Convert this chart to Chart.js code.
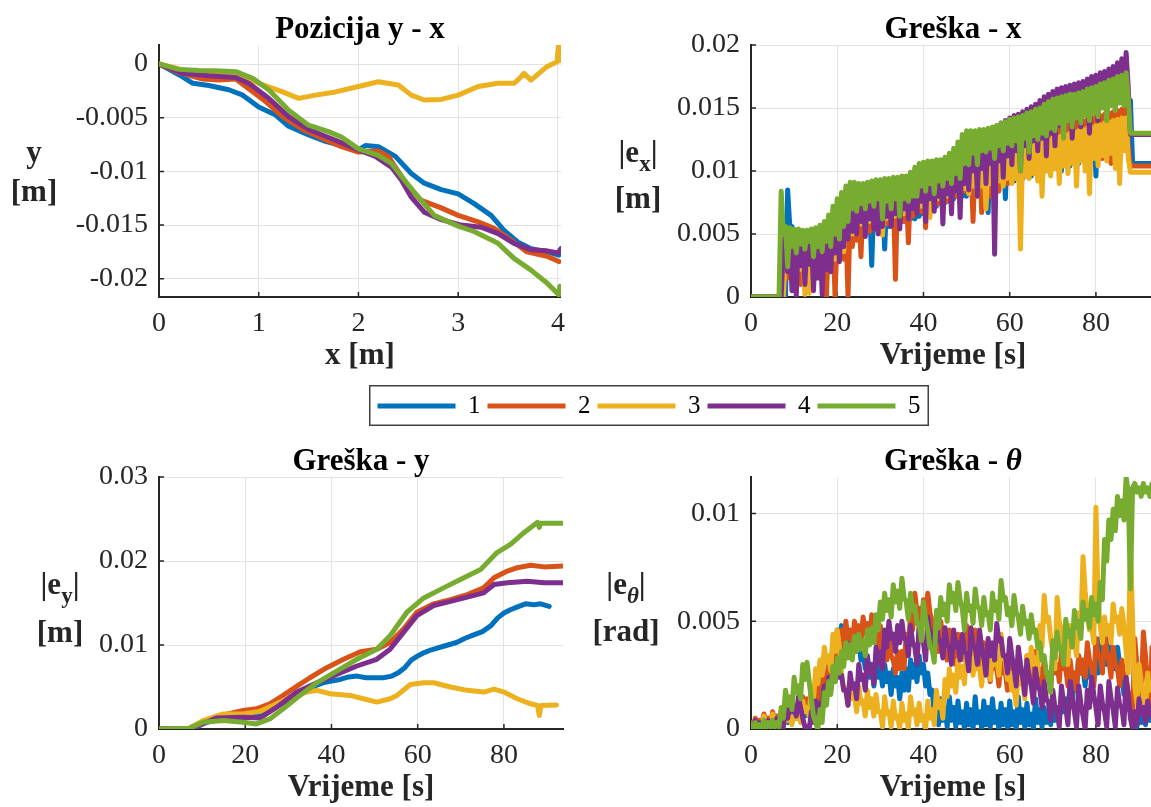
<!DOCTYPE html>
<html>
<head>
<meta charset="utf-8">
<script src="https://cdn.jsdelivr.net/npm/chart.js@4.4.1/dist/chart.umd.min.js"></script>
<style>
  html, body { margin: 0; padding: 0; background: #fff; }
  #fig { position: relative; width: 1151px; height: 807px; overflow: hidden; background: #fff; }
  #fig canvas { position: absolute; }
</style>
</head>
<body>
<div id="fig">
  <canvas id="posChart" width="575" height="400" style="left:0;top:0"></canvas>
  <canvas id="exChart" width="575" height="400" style="left:592px;top:0"></canvas>
  <canvas id="eyChart" width="575" height="400" style="left:0;top:432px"></canvas>
  <canvas id="ethChart" width="575" height="400" style="left:592px;top:432px"></canvas>
  <canvas id="legendChart" width="560" height="60" style="left:369px;top:385px"></canvas>
</div>
<script>
/* runs 1..5, MATLAB default colour order */
const runNames = ['1', '2', '3', '4', '5'];
const COLORS = ['#0072BD', '#D95319', '#EDB120', '#7E2F8E', '#77AC30'];

/* Pozicija y - x : x in m, y in mm */
const posX1 = [0, 0.1, 0.2, 0.34, 0.5, 0.7, 0.84, 1.0, 1.17, 1.3, 1.5, 1.67, 1.83, 2.0, 2.07, 2.2, 2.37, 2.53, 2.66, 2.83, 3.0, 3.16, 3.33, 3.46, 3.6, 3.73, 3.89, 4.01];
const posY1 = [0, -0.5, -1.0, -1.8, -2.0, -2.4, -2.9, -4.0, -4.75, -5.8, -6.6, -7.2, -7.6, -8.0, -7.6, -7.7, -8.6, -10.2, -11.1, -11.7, -12.1, -13.0, -14.1, -15.5, -16.6, -17.2, -17.5, -17.8];
const posX2 = [0, 0.2, 0.44, 0.6, 0.77, 0.9, 1.07, 1.24, 1.44, 1.63, 1.83, 2.0, 2.2, 2.3, 2.37, 2.5, 2.63, 2.83, 3.0, 3.2, 3.36, 3.53, 3.69, 3.89, 4.01];
const posY2 = [0, -0.8, -1.4, -1.5, -1.4, -2.3, -3.5, -4.9, -6.1, -6.9, -7.7, -8.2, -8.1, -8.6, -9.6, -11.4, -12.7, -13.4, -14.1, -14.7, -15.3, -16.4, -17.5, -17.9, -18.4];
const posX3 = [0, 0.24, 0.5, 0.77, 1.0, 1.24, 1.4, 1.57, 1.77, 2.0, 2.2, 2.4, 2.53, 2.66, 2.83, 3.0, 3.2, 3.4, 3.56, 3.62, 3.66, 3.73, 3.89, 3.99, 4.005, 4.01, 4.015];
const posY3 = [0, -0.56, -0.75, -0.87, -1.8, -2.6, -3.2, -2.9, -2.6, -2.1, -1.65, -1.95, -2.9, -3.35, -3.3, -2.9, -2.1, -1.8, -1.8, -1.3, -0.87, -1.5, -0.25, 0.2, 1.7, 0.6, 0.3];
const posX4 = [0, 0.24, 0.5, 0.77, 0.9, 1.1, 1.3, 1.5, 1.77, 2.0, 2.17, 2.33, 2.43, 2.53, 2.66, 2.83, 3.03, 3.23, 3.4, 3.56, 3.73, 3.89, 4.0, 4.03];
const posY4 = [0, -0.87, -1.1, -1.25, -1.8, -3.2, -4.9, -6.1, -7.1, -8.0, -8.6, -9.6, -10.8, -12.4, -13.8, -14.5, -15.0, -15.2, -15.8, -16.7, -17.3, -17.4, -17.6, -17.2];
const posX5 = [0, 0.2, 0.4, 0.57, 0.77, 0.94, 1.1, 1.3, 1.5, 1.7, 1.83, 2.0, 2.2, 2.33, 2.46, 2.6, 2.76, 3.0, 3.16, 3.4, 3.56, 3.73, 3.89, 4.01, 4.02];
const posY5 = [0, -0.5, -0.6, -0.62, -0.71, -1.34, -2.4, -4.3, -5.7, -6.3, -6.8, -7.9, -8.5, -9.25, -10.8, -12.4, -14.1, -15.1, -15.6, -16.7, -18.1, -19.2, -20.4, -21.5, -20.7];

/* sample times [s] for |e_x| and |e_theta| (every 0.5 s) */
const secs = [0, 0.5, 1, 1.5, 2, 2.5, 3, 3.5, 4, 4.5, 5, 5.5, 6, 6.5, 7, 7.5, 8, 8.5, 9, 9.5,
  10, 10.5, 11, 11.5, 12, 12.5, 13, 13.5, 14, 14.5, 15, 15.5, 16, 16.5, 17, 17.5, 18, 18.5, 19, 19.5,
  20, 20.5, 21, 21.5, 22, 22.5, 23, 23.5, 24, 24.5, 25, 25.5, 26, 26.5, 27, 27.5, 28, 28.5, 29, 29.5,
  30, 30.5, 31, 31.5, 32, 32.5, 33, 33.5, 34, 34.5, 35, 35.5, 36, 36.5, 37, 37.5, 38, 38.5, 39, 39.5,
  40, 40.5, 41, 41.5, 42, 42.5, 43, 43.5, 44, 44.5, 45, 45.5, 46, 46.5, 47, 47.5, 48, 48.5, 49, 49.5,
  50, 50.5, 51, 51.5, 52, 52.5, 53, 53.5, 54, 54.5, 55, 55.5, 56, 56.5, 57, 57.5, 58, 58.5, 59, 59.5,
  60, 60.5, 61, 61.5, 62, 62.5, 63, 63.5, 64, 64.5, 65, 65.5, 66, 66.5, 67, 67.5, 68, 68.5, 69, 69.5,
  70, 70.5, 71, 71.5, 72, 72.5, 73, 73.5, 74, 74.5, 75, 75.5, 76, 76.5, 77, 77.5, 78, 78.5, 79, 79.5,
  80, 80.5, 81, 81.5, 82, 82.5, 83, 83.5, 84, 84.5, 85, 85.5, 86, 86.5, 87, 87.5, 88, 88.5, 89, 89.5,
  90, 90.5, 91, 91.5, 92, 92.5, 93, 93.5];

/* |e_x| in mm, one line = 10 s */
const ex1 = [0, 0, 0, 0, 0, 0, 0, 0, 0, 0, 0, 0, 0, 0, 0, 0, 0.0, 8.5, 5.6, 5.6,
  1.0, 5.0, 2.0, 4.6, 2.0, 4.4, 2.4, 4.4, 2.5, 4.5, 2.2, 4.6, 2.6, 4.7, 2.0, 4.8, 2.8, 4.9, 3.0, 5.0,
  3.2, 5.2, 3.4, 5.4, 4.2, 5.8, 4.4, 6.4, 4.8, 6.8, 5.0, 7.2, 5.0, 7.4, 5.2, 7.6, 2.5, 7.7, 5.4, 7.8,
  5.2, 7.9, 3.8, 8.0, 5.6, 8.1, 5.8, 8.2, 5.8, 8.3, 6.0, 8.4, 6.0, 8.4, 6.2, 8.6, 6.2, 8.8, 6.4, 9.0,
  6.6, 9.2, 6.8, 9.3, 7.0, 9.4, 7.2, 9.5, 7.4, 9.6, 7.5, 9.7, 7.6, 9.8, 7.8, 10.0, 8.0, 10.2, 8.0, 10.4,
  8.0, 10.6, 8.2, 10.7, 8.2, 10.8, 8.4, 11.0, 8.6, 11.2, 6.7, 11.4, 8.6, 11.6, 8.8, 11.8, 9.0, 12.0, 7.8, 12.1,
  9.2, 12.2, 9.2, 12.3, 9.4, 12.4, 9.4, 12.5, 9.6, 12.6, 9.6, 12.7, 9.8, 12.8, 9.8, 12.9, 10.0, 13.0, 10.0, 13.1,
  10.2, 13.2, 10.2, 13.3, 10.0, 13.4, 10.4, 13.5, 10.4, 13.6, 10.6, 13.7, 10.6, 13.8, 10.8, 13.8, 10.8, 13.9, 11.0, 14.0,
  9.6, 14.1, 11.0, 14.2, 11.2, 14.3, 11.2, 14.4, 11.4, 14.5, 11.6, 14.6, 11.6, 14.7, 11.8, 14.8, 15.6, 10.6, 10.6, 10.6,
  10.6, 10.6, 10.6, 10.6, 10.6, 10.6, 10.6, 10.6];
const ex2 = [0, 0, 0, 0, 0, 0, 0, 0, 0, 0, 0, 0, 0, 0, 0, 0, 4.2, 1.5, 4.2, 2.0,
  4.3, 2.4, 4.3, 1.0, 4.4, 2.2, 4.4, 2.6, 4.5, 1.4, 4.6, 2.8, 4.7, 3.0, 4.8, 0.0, 5.0, 3.2, 5.1, 0.0,
  5.2, 3.6, 5.6, 3.0, 6.0, 0.0, 6.6, 4.0, 7.0, 4.5, 7.4, 3.2, 7.6, 5.0, 7.8, 5.2, 7.9, 5.4, 8.0, 5.6,
  8.1, 5.6, 8.2, 5.8, 8.3, 6.0, 8.4, 1.4, 8.5, 6.2, 8.6, 6.0, 8.6, 4.3, 8.8, 6.4, 9.0, 6.6, 9.2, 6.8,
  9.4, 5.5, 9.5, 7.0, 9.6, 7.2, 9.7, 7.4, 9.8, 7.2, 9.9, 7.6, 10.0, 7.8, 10.2, 8.0, 10.4, 8.2, 10.6, 8.4,
  10.8, 8.4, 10.9, 6.0, 11.0, 8.6, 11.2, 6.7, 11.4, 8.8, 11.6, 8.0, 11.8, 9.0, 12.0, 8.4, 12.2, 9.2, 12.3, 9.0,
  12.4, 9.4, 12.5, 9.4, 12.6, 9.6, 12.7, 9.6, 12.8, 9.8, 12.9, 9.8, 13.0, 10.0, 13.1, 10.0, 13.2, 10.2, 13.3, 10.2,
  13.4, 10.4, 13.5, 10.6, 13.6, 10.6, 13.7, 10.4, 13.8, 10.8, 13.9, 11.0, 14.0, 11.0, 14.0, 10.8, 14.1, 11.2, 14.2, 11.2,
  14.3, 11.4, 14.4, 11.0, 14.5, 11.6, 14.6, 10.6, 14.7, 11.8, 14.8, 11.5, 14.9, 12.0, 15.0, 12.0, 10.4, 10.4, 10.4, 10.4,
  10.4, 10.4, 10.4, 10.4, 10.4, 10.4, 10.4, 10.4];
const ex3 = [0, 0, 0, 0, 0, 0, 0, 0, 0, 0, 0, 0, 0, 0, 0, 0, 4.0, 2.0, 4.4, 2.5,
  4.4, 1.8, 4.5, 2.2, 4.5, 0.2, 4.5, 0.3, 4.6, 2.4, 4.7, 2.4, 4.8, 2.6, 4.9, 2.6, 5.0, 3.0, 5.3, 3.0,
  5.6, 3.6, 6.0, 3.6, 6.6, 5.0, 7.0, 5.0, 7.2, 5.8, 7.4, 5.8, 7.6, 5.6, 7.7, 6.0, 7.8, 6.0, 7.9, 6.2,
  8.0, 4.9, 8.1, 6.2, 8.2, 6.4, 8.2, 6.4, 8.3, 6.6, 8.4, 6.6, 8.4, 6.5, 8.6, 7.0, 8.8, 7.0, 9.0, 7.2,
  9.0, 7.5, 9.1, 6.3, 9.2, 7.6, 9.3, 7.8, 9.4, 8.0, 9.5, 8.0, 9.5, 8.2, 9.6, 8.4, 9.8, 8.6, 10.0, 8.6,
  10.2, 8.2, 10.3, 8.8, 10.4, 8.0, 10.5, 8.8, 10.6, 7.0, 10.8, 9.0, 10.9, 6.5, 11.0, 9.2, 11.2, 8.8, 11.3, 9.4,
  11.4, 9.0, 11.5, 9.4, 11.6, 3.8, 11.8, 9.6, 11.9, 9.4, 12.0, 9.8, 12.2, 9.2, 12.3, 8.0, 12.4, 10.0, 12.5, 9.6,
  12.6, 10.2, 12.7, 9.0, 12.8, 10.4, 12.9, 9.8, 13.0, 10.6, 13.1, 8.8, 13.2, 10.8, 13.3, 10.0, 13.4, 8.2, 13.5, 11.0,
  13.6, 10.4, 13.7, 11.2, 13.8, 10.8, 13.9, 11.4, 14.0, 10.2, 14.1, 9.0, 14.2, 11.6, 14.2, 11.0, 9.9, 9.9, 9.9, 9.9,
  9.9, 9.9, 9.9, 9.9, 9.9, 9.9, 9.9, 9.9];
const ex4 = [0, 0, 0, 0, 0, 0, 0, 0, 0, 0, 0, 0, 0, 0, 0.0, 4.0, 5.0, 2.0, 5.0, 0.5,
  4.8, 0.1, 4.8, 2.5, 4.8, 1.0, 4.8, 2.6, 5.0, 0.5, 5.0, 1.5, 5.2, 0.2, 5.4, 2.2, 5.8, 2.0, 6.4, 3.5,
  7.0, 2.8, 7.6, 4.0, 8.0, 4.6, 8.4, 5.2, 8.5, 5.0, 8.5, 6.0, 8.5, 4.8, 8.6, 6.2, 8.7, 5.4, 8.8, 5.0,
  8.8, 5.6, 8.9, 6.4, 8.9, 5.6, 9.0, 6.6, 9.0, 5.4, 9.1, 7.0, 9.1, 6.2, 9.4, 7.0, 9.8, 6.6, 10.0, 7.6,
  10.1, 6.0, 10.2, 7.8, 10.2, 6.8, 10.3, 8.0, 10.4, 5.8, 10.5, 8.2, 10.8, 6.6, 11.2, 8.4, 11.8, 6.3, 12.4, 9.0,
  12.8, 8.5, 12.8, 10.0, 12.9, 8.0, 13.0, 10.2, 13.1, 9.0, 13.2, 10.6, 13.4, 3.4, 13.6, 10.8, 13.8, 9.5, 14.0, 11.2,
  14.2, 10.5, 14.4, 11.6, 14.5, 10.0, 14.7, 12.0, 14.9, 11.0, 15.1, 12.4, 15.3, 11.6, 15.6, 12.6, 15.9, 11.2, 16.1, 13.0,
  16.3, 12.0, 16.5, 13.6, 16.6, 13.2, 16.7, 14.0, 16.8, 12.6, 16.9, 14.2, 17.0, 13.5, 17.1, 14.6, 17.3, 13.0, 17.5, 14.8,
  17.6, 14.0, 17.8, 15.2, 17.9, 14.5, 18.1, 15.6, 18.3, 15.0, 18.6, 16.0, 18.9, 15.8, 19.4, 16.6, 12.9, 12.9, 12.9, 12.9,
  12.9, 12.9, 12.9, 12.9, 12.9, 12.9, 12.9, 12.9];
const ex5 = [0, 0, 0, 0, 0, 0, 0, 0, 0, 0, 0, 0, 0, 0, 8.4, 5.0, 5.6, 2.4, 5.5, 4.0,
  5.4, 3.5, 5.4, 4.2, 5.3, 3.8, 5.3, 4.4, 5.4, 3.2, 5.5, 4.0, 5.7, 3.6, 6.0, 4.4, 6.5, 4.0, 7.2, 5.0,
  7.8, 4.6, 8.3, 5.6, 8.8, 6.0, 9.1, 7.0, 9.1, 6.8, 9.0, 7.4, 9.0, 7.0, 9.1, 7.6, 9.2, 7.2, 9.3, 7.8,
  9.3, 6.2, 9.4, 7.6, 9.4, 7.0, 9.5, 7.8, 9.5, 6.4, 9.6, 7.8, 9.6, 7.6, 9.9, 8.0, 10.3, 8.0, 10.6, 8.8,
  10.7, 8.4, 10.8, 9.0, 10.8, 8.2, 10.9, 9.2, 10.9, 8.8, 11.1, 9.4, 11.4, 9.0, 11.8, 9.8, 12.3, 9.4, 12.9, 10.6,
  13.2, 10.5, 13.2, 11.4, 13.2, 10.5, 13.3, 11.6, 13.3, 11.5, 13.4, 11.8, 13.5, 11.0, 13.6, 12.0, 13.8, 11.6, 13.9, 12.2,
  14.1, 12.0, 14.2, 12.4, 14.3, 10.0, 14.4, 12.6, 14.6, 11.5, 14.7, 12.8, 14.9, 12.5, 15.0, 13.0, 15.3, 12.8, 15.5, 13.4,
  15.7, 13.2, 15.8, 13.8, 15.9, 12.6, 16.0, 14.0, 16.1, 13.5, 16.1, 14.2, 16.2, 13.8, 16.3, 14.4, 16.5, 14.0, 16.6, 14.6,
  16.7, 14.3, 16.9, 15.0, 17.0, 14.0, 17.2, 15.2, 17.3, 14.8, 17.5, 15.4, 17.6, 15.2, 17.8, 15.8, 13.0, 13.0, 13.0, 13.0,
  13.0, 13.0, 13.0, 13.0, 13.0, 13.0, 13.0, 13.0];

/* |e_y| in mm, each run with its own sample times */
const eyT1 = [0, 8, 10, 13, 17, 20, 23.4, 26, 28, 30, 32, 34, 36, 38, 40, 42, 44, 46, 48, 50, 52, 54, 55.5, 57, 58.5, 60, 61.5, 63, 65, 67, 69, 71, 73, 75, 77, 78.5, 80, 81.5, 83, 85, 87, 88.5, 90.5];
const ey1 = [0, 0, 0.6, 1.1, 1.4, 1.6, 1.6, 2.2, 2.9, 3.4, 4.0, 4.6, 5.1, 5.5, 5.7, 5.9, 6.2, 6.3, 6.1, 6.1, 6.1, 6.3, 6.7, 7.3, 8.2, 8.7, 9.1, 9.4, 9.7, 10.0, 10.3, 10.8, 11.2, 11.6, 12.3, 13.2, 13.8, 14.2, 14.5, 14.9, 14.8, 14.9, 14.6];
const eyT2 = [0, 8, 10, 13, 16, 19.5, 22.6, 25.7, 28.8, 32, 35, 38.9, 42.8, 46.7, 50.5, 53.6, 56.7, 59.8, 63.7, 67.6, 71.5, 75.3, 77.7, 80.8, 83.1, 86.2, 89.3, 93.7];
const ey2 = [0, 0, 0.8, 1.4, 1.8, 2.2, 2.4, 3.0, 4.0, 5.1, 6.1, 7.3, 8.3, 9.2, 9.5, 10.3, 11.9, 13.9, 14.9, 15.4, 16.0, 16.8, 18.0, 18.8, 19.2, 19.5, 19.3, 19.4];
const eyT3 = [0, 7, 10.2, 14.9, 19.5, 23.4, 27.3, 31.2, 34.3, 36.6, 39.7, 44.3, 47.4, 50.5, 53.6, 55.2, 58.3, 61.4, 63.7, 67.6, 71.5, 75.3, 77.7, 80, 83.1, 86.2, 87.8, 88.2, 88.6, 92.2];
const ey3 = [0, 0.1, 1.0, 1.8, 1.8, 2.1, 3.0, 4.0, 4.4, 4.6, 4.2, 4.0, 3.6, 3.2, 3.6, 4.0, 5.3, 5.5, 5.5, 5.0, 4.6, 4.4, 4.75, 4.4, 3.6, 3.0, 2.8, 1.6, 2.8, 2.85];
const eyT4 = [0, 7.9, 13.3, 19.5, 23.4, 27.3, 32, 36.6, 41.2, 45.9, 50.5, 53.6, 56.7, 59.8, 63.7, 67.6, 71.5, 75.3, 77.7, 80.8, 85.4, 89.3, 93.6];
const ey4 = [0, 0.1, 1.3, 1.4, 1.3, 2.6, 4.4, 5.5, 6.5, 7.5, 8.3, 9.5, 11.5, 13.5, 14.7, 15.2, 15.7, 16.2, 17.2, 17.4, 17.6, 17.4, 17.4];
const eyT5 = [0, 7.1, 10.2, 14.9, 19.5, 22.6, 25.7, 28.8, 32.7, 36.6, 41.2, 45.9, 50.5, 53.6, 57.5, 61.4, 66, 69.9, 74.6, 78.4, 81.6, 84.7, 87.8, 88.2, 88.5, 93.7];
const ey5 = [0, 0.1, 0.8, 1.0, 0.8, 0.6, 1.2, 2.4, 4.0, 5.5, 6.9, 8.3, 9.5, 11.1, 13.9, 15.6, 16.8, 17.8, 19.0, 21.0, 22.0, 23.4, 24.6, 24.0, 24.5, 24.5];

/* |e_theta| in mrad, one line = 10 s */
const eth1 = [0.2, 0.0, 0.2, 0.1, 0.3, 0.1, 0.3, 0.1, 0.4, 0.2, 0.3, 0.1, 0.4, 0.2, 0.5, 0.2, 0.6, 0.3, 0.7, 0.4,
  0.9, 0.5, 0.8, 0.4, 1.1, 0.6, 1.0, 0.6, 1.6, 1.0, 1.5, 1.0, 2.2, 1.6, 2.3, 1.8, 2.9, 2.2, 3.6, 2.8,
  4.6, 3.8, 4.8, 4.0, 4.4, 3.6, 4.2, 3.4, 4.5, 3.6, 4.0, 3.2, 3.6, 2.8, 3.2, 2.4, 3.0, 2.0, 3.2, 2.4,
  2.8, 2.0, 3.0, 2.2, 2.6, 1.6, 2.8, 2.0, 2.4, 1.4, 2.6, 1.8, 2.8, 1.8, 3.2, 2.4, 3.0, 2.2, 3.4, 2.6,
  3.0, 2.0, 2.6, 1.6, 1.8, 0.8, 1.2, 0.2, 1.4, 0.4, 1.0, 0.1, 1.5, 0.4, 1.0, 0.1, 1.3, 0.3, 0.8, 0.0,
  1.2, 0.2, 0.9, 0.0, 1.5, 0.3, 0.8, 0.0, 1.3, 0.2, 1.0, 0.1, 1.4, 0.3, 0.8, 0.0, 1.2, 0.2, 0.9, 0.1,
  1.3, 0.2, 0.8, 0.0, 1.5, 0.3, 0.9, 0.1, 1.2, 0.2, 0.7, 0.0, 1.4, 0.3, 0.9, 0.1, 1.0, 0.3, 0.8, 0.2,
  1.2, 0.4, 1.0, 0.4, 1.6, 0.8, 1.4, 0.8, 2.0, 1.2, 2.6, 1.8, 3.4, 2.6, 2.8, 2.0, 3.2, 2.4, 3.0, 2.2,
  3.4, 2.6, 4.2, 3.4, 3.8, 3.0, 4.2, 3.4, 3.6, 2.8, 3.8, 3.0, 2.6, 1.6, 1.8, 1.0, 0.8, 0.2, 0.6, 0.1,
  0.8, 0.3, 0.7, 0.2, 1.0, 0.4, 0.8, 0.3];
const eth2 = [0.3, 0.1, 0.5, 0.2, 0.4, 0.2, 0.7, 0.3, 0.5, 0.2, 0.8, 0.4, 0.6, 0.3, 0.5, 0.2, 0.9, 0.5, 0.8, 0.4,
  1.1, 0.7, 1.0, 0.6, 1.5, 1.0, 1.4, 0.9, 2.0, 1.4, 1.9, 1.3, 2.6, 2.0, 2.5, 1.9, 3.2, 2.6, 3.8, 3.2,
  4.2, 3.4, 4.6, 3.8, 5.0, 4.2, 4.6, 3.8, 5.0, 4.2, 4.8, 4.0, 5.2, 4.4, 4.9, 4.1, 5.3, 4.4, 4.8, 3.8,
  4.8, 3.8, 4.0, 3.2, 4.4, 3.4, 3.2, 2.6, 3.6, 2.8, 3.6, 2.8, 4.4, 3.6, 5.4, 4.6, 6.3, 5.4, 5.6, 4.8,
  6.0, 5.2, 6.3, 5.4, 5.0, 4.2, 4.4, 3.6, 5.0, 4.2, 4.0, 3.2, 4.6, 3.8, 3.8, 3.0, 4.4, 3.6, 4.0, 3.2,
  4.8, 4.0, 4.2, 3.4, 4.6, 3.8, 3.6, 2.8, 4.0, 3.2, 3.0, 2.2, 3.6, 2.8, 2.8, 2.0, 3.4, 2.6, 2.6, 1.8,
  3.6, 2.8, 3.0, 2.2, 3.2, 2.4, 2.6, 1.8, 3.4, 2.6, 3.0, 2.2, 3.6, 2.8, 2.8, 2.0, 3.2, 2.4, 2.6, 1.8,
  3.4, 2.6, 3.0, 2.2, 3.6, 2.8, 2.8, 2.0, 3.2, 2.4, 2.6, 1.8, 3.4, 2.6, 3.2, 2.4, 4.0, 3.2, 2.8, 2.0,
  4.2, 3.4, 3.4, 2.6, 4.4, 3.6, 3.2, 2.4, 3.8, 3.0, 2.8, 2.0, 3.2, 2.4, 2.4, 1.6, 1.4, 0.6, 4.2, 3.0,
  2.6, 1.6, 4.5, 3.4, 1.8, 0.9, 3.8, 2.8];
const eth3 = [0.2, 0.0, 0.4, 0.1, 0.3, 0.1, 0.6, 0.3, 0.4, 0.1, 0.7, 0.4, 0.5, 0.2, 0.4, 0.1, 0.7, 0.4, 0.5, 0.2,
  0.9, 0.5, 0.6, 0.3, 1.3, 0.8, 1.0, 0.6, 2.0, 1.4, 2.8, 2.1, 3.2, 2.5, 3.8, 3.1, 3.4, 2.7, 4.4, 3.6,
  4.6, 3.8, 2.6, 1.8, 1.9, 1.1, 2.2, 1.4, 1.6, 0.8, 2.0, 1.2, 1.3, 0.6, 1.8, 1.0, 1.4, 0.6, 1.6, 0.8,
  0.8, 0.1, 1.5, 0.7, 0.8, 0.1, 1.3, 0.5, 0.6, 0.0, 1.2, 0.4, 0.7, 0.0, 1.5, 0.7, 0.9, 0.2, 1.2, 0.4,
  0.6, 0.0, 1.3, 0.5, 0.9, 0.2, 1.8, 1.0, 1.3, 0.5, 2.3, 1.5, 2.8, 2.0, 2.5, 1.7, 3.2, 2.4, 2.9, 2.1,
  3.6, 2.8, 3.3, 2.5, 3.6, 2.8, 2.8, 2.0, 3.4, 2.6, 3.1, 2.3, 3.8, 3.0, 3.3, 2.5, 4.4, 3.4, 3.1, 2.3,
  2.6, 1.8, 1.9, 1.1, 2.9, 2.1, 2.2, 1.4, 3.4, 2.6, 3.8, 3.0, 3.3, 2.5, 4.8, 3.8, 6.2, 5.0, 5.2, 4.2,
  3.6, 2.8, 6.1, 5.0, 4.6, 3.8, 3.8, 3.0, 4.8, 4.0, 4.2, 3.4, 5.4, 4.6, 8.0, 6.4, 5.4, 4.6, 4.8, 4.0,
  10.3, 6.0, 4.8, 4.0, 5.2, 4.4, 4.8, 4.0, 5.8, 5.0, 5.2, 4.4, 5.6, 4.8, 3.6, 2.6, 8.8, 5.0, 2.0, 1.2,
  3.0, 2.2, 1.6, 0.9, 2.6, 1.8, 2.2, 1.4];
const eth4 = [0.2, 0.0, 0.4, 0.1, 0.3, 0.1, 0.2, 0.0, 0.4, 0.1, 0.3, 0.1, 0.5, 0.2, 0.3, 0.1, 1.0, 0.5, 1.3, 0.8,
  1.0, 0.6, 1.5, 1.0, 0.5, 0.1, 0.1, 0.0, 0.8, 0.3, 1.3, 0.8, 1.2, 0.7, 2.0, 1.4, 2.4, 1.8, 2.8, 2.2,
  3.0, 2.4, 2.5, 1.8, 1.8, 1.1, 2.6, 1.9, 2.1, 1.4, 3.0, 2.3, 2.5, 1.8, 3.4, 2.6, 2.9, 2.1, 3.8, 3.0,
  3.6, 2.8, 4.6, 3.8, 5.0, 4.2, 4.4, 3.6, 4.8, 4.0, 5.0, 4.2, 4.2, 3.4, 4.8, 4.0, 3.8, 3.0, 4.9, 4.1,
  4.0, 3.2, 5.2, 4.4, 4.5, 3.7, 4.9, 4.1, 4.1, 3.3, 4.7, 3.9, 3.8, 3.0, 4.6, 3.8, 4.0, 3.2, 4.4, 3.6,
  3.5, 2.7, 4.7, 3.9, 3.8, 3.0, 4.6, 3.8, 3.3, 2.5, 4.2, 3.4, 4.0, 3.2, 4.9, 4.1, 4.2, 3.4, 3.4, 2.6,
  4.2, 3.4, 2.8, 2.0, 3.8, 3.0, 2.4, 1.6, 3.2, 2.4, 2.0, 1.2, 2.8, 2.0, 1.8, 1.0, 2.2, 1.4, 1.2, 0.4,
  1.8, 1.0, 0.8, 0.1, 2.0, 1.2, 1.0, 0.2, 2.2, 1.4, 0.8, 0.1, 2.0, 1.2, 0.6, 0.0, 1.8, 1.0, 2.4, 1.6,
  1.0, 0.2, 2.0, 1.2, 0.8, 0.1, 2.2, 1.4, 0.9, 0.1, 1.9, 1.1, 1.0, 0.2, 2.4, 1.6, 0.5, 0.0, 0.8, 0.2,
  1.4, 0.7, 1.0, 0.3, 1.3, 0.6, 0.9, 0.3];
const eth5 = [0.2, 0.0, 0.3, 0.1, 0.2, 0.0, 0.4, 0.1, 0.3, 0.1, 0.4, 0.1, 0.3, 0.1, 1.0, 0.5, 1.8, 1.1, 1.5, 0.9,
  2.4, 1.7, 2.0, 1.4, 3.0, 2.3, 3.1, 2.2, 1.4, 0.6, 0.3, 0.0, 0.9, 0.3, 1.7, 1.1, 2.2, 1.6, 2.9, 2.2,
  3.3, 2.6, 3.6, 2.9, 4.0, 3.3, 3.9, 3.2, 4.3, 3.6, 4.4, 3.7, 4.1, 3.4, 4.6, 3.9, 4.7, 4.0, 5.3, 4.6,
  5.9, 5.1, 6.3, 5.5, 6.0, 5.2, 6.7, 5.9, 6.4, 5.6, 7.0, 6.1, 5.9, 5.1, 6.3, 5.5, 5.7, 4.9, 4.9, 4.1,
  5.9, 5.1, 4.6, 3.8, 3.7, 3.1, 5.5, 4.7, 6.1, 5.3, 5.8, 5.0, 6.7, 5.9, 6.3, 5.5, 6.8, 6.0, 5.6, 4.6,
  6.3, 5.5, 5.7, 4.9, 6.5, 5.7, 5.6, 4.8, 6.1, 5.3, 5.4, 4.6, 6.3, 5.5, 5.9, 5.1, 6.9, 6.0, 6.1, 5.3,
  5.6, 4.8, 6.2, 5.4, 5.2, 4.4, 5.7, 4.9, 5.0, 4.2, 5.3, 4.5, 4.6, 3.8, 4.0, 3.2, 3.4, 2.6, 2.4, 1.7,
  4.1, 3.3, 4.5, 3.7, 3.8, 3.0, 5.1, 4.3, 4.6, 3.8, 5.5, 4.7, 5.0, 4.2, 5.9, 5.1, 5.5, 4.7, 6.1, 5.3,
  5.8, 5.0, 6.8, 6.0, 8.8, 7.8, 9.7, 8.8, 10.2, 9.2, 10.8, 9.9, 10.6, 9.7, 11.7, 11.0, 6.5, 11.2, 11.4, 11.0,
  11.2, 10.8, 11.4, 11.0, 11.2, 10.8, 11.4, 11.1];

/* axes */
const posXTicks = [0, 1, 2, 3, 4];
const posXTickLabels = ['0', '1', '2', '3', '4'];
const posYTicks = [-0.02, -0.015, -0.01, -0.005, 0];
const posYTickLabels = ['-0.02', '-0.015', '-0.01', '-0.005', '0'];
const timeTicks = [0, 20, 40, 60, 80];
const timeTickLabels = ['0', '20', '40', '60', '80'];
const exTicks = [0, 0.005, 0.01, 0.015, 0.02];
const exTickLabels = ['0', '0.005', '0.01', '0.015', '0.02'];
const eyTicks = [0, 0.01, 0.02, 0.03];
const eyTickLabels = ['0', '0.01', '0.02', '0.03'];
const ethTicks = [0, 0.005, 0.01];
const ethTickLabels = ['0', '0.005', '0.01'];

const SERIF = "'Liberation Serif', 'Times New Roman', serif";
const AXIS = '#262626';
const GRID = '#e3e3e3';
const TITLE = `bold 31px ${SERIF}`;
const TITLE_IT = `italic bold 31px ${SERIF}`;
const SUB = `bold 23px ${SERIF}`;
const SUB_IT = `italic bold 23px ${SERIF}`;

// mm -> m (and mrad -> rad)
const fromMilli = v => v / 1000;

function lineSet(i, xs, ys) {
  return {
    label: runNames[i],
    data: xs.map((x, k) => ({ x, y: fromMilli(ys[k]) })),
    borderColor: COLORS[i],
    backgroundColor: COLORS[i],
    borderWidth: 5,
    pointRadius: 0,
    tension: 0,
    borderJoinStyle: 'round',
    borderCapStyle: 'round',
    order: 5 - i // run 5 on top
  };
}

/* inward tick marks, like the MATLAB axes */
const tickMarks = {
  id: 'tickMarks',
  beforeDatasetsDraw(chart) {
    const { ctx, chartArea: a, scales: { x, y } } = chart;
    ctx.save();
    ctx.strokeStyle = AXIS;
    ctx.lineWidth = 1.5;
    ctx.beginPath();
    x.ticks.forEach(t => {
      const px = x.getPixelForValue(t.value);
      ctx.moveTo(px, a.bottom);
      ctx.lineTo(px, a.bottom - 5);
    });
    y.ticks.forEach(t => {
      const py = y.getPixelForValue(t.value);
      ctx.moveTo(a.left, py);
      ctx.lineTo(a.left + 5, py);
    });
    ctx.stroke();
    ctx.restore();
  }
};

/* titles and horizontal y labels with sub scripts */
function richText(items) {
  return {
    id: 'richText',
    afterDraw(chart) {
      const ctx = chart.ctx;
      ctx.save();
      ctx.textBaseline = 'alphabetic';
      ctx.textAlign = 'left';
      items.forEach(item => {
        const cx = item.x === 'center' ? (chart.chartArea.left + chart.chartArea.right) / 2 : item.x;
        const widths = item.parts.map(p => { ctx.font = p.font; return ctx.measureText(p.text).width; });
        let x = cx - widths.reduce((a, b) => a + b, 0) / 2;
        item.parts.forEach((p, k) => {
          ctx.font = p.font;
          ctx.fillStyle = item.color || AXIS;
          ctx.fillText(p.text, x, item.y + (p.dy || 0));
          x += widths[k];
        });
      });
      ctx.restore();
    }
  };
}

function axis(min, max, ticks, labels, fit) {
  return {
    type: 'linear', bounds: 'data', min, max,
    afterBuildTicks: s => { s.ticks = ticks.map(v => ({ value: v })); },
    afterFit: fit,
    ticks: { callback: (v, i) => labels[i], font: { family: SERIF, size: 28 }, color: AXIS, maxRotation: 0, autoSkip: false },
    grid: { color: GRID, lineWidth: 1, drawTicks: false },
    border: { color: AXIS, width: 2 }
  };
}

function makeOptions(c) {
  const x = axis(c.xMin, c.xMax, c.xTicks, c.xLabels, s => { s.height = 103; });
  x.ticks.padding = 10;
  x.title = { display: true, text: c.xTitle, color: AXIS, font: { family: SERIF, size: 31, weight: 'bold', lineHeight: 1 }, padding: { top: 0, bottom: 29 } };
  const y = axis(c.yMin, c.yMax, c.yTicks, c.yLabels, s => { s.width = 159; });
  y.ticks.padding = 11;
  return {
    responsive: false, animation: false, devicePixelRatio: 1, events: [],
    layout: { padding: { top: 45, right: 12, bottom: 0, left: 0 } },
    plugins: { legend: { display: false }, tooltip: { enabled: false }, title: { display: false } },
    scales: { x, y }
  };
}

function buildChart(id, datasets, c) {
  return new Chart(document.getElementById(id), {
    type: 'line',
    data: { datasets },
    options: makeOptions(c),
    plugins: [tickMarks, richText(c.texts)]
  });
}

const posX = [posX1, posX2, posX3, posX4, posX5];
const posY = [posY1, posY2, posY3, posY4, posY5];
const exRuns = [ex1, ex2, ex3, ex4, ex5];
const eyTimes = [eyT1, eyT2, eyT3, eyT4, eyT5];
const eyRuns = [ey1, ey2, ey3, ey4, ey5];
const ethRuns = [eth1, eth2, eth3, eth4, eth5];

buildChart('posChart', posX.map((xs, i) => lineSet(i, xs, posY[i])), {
  xMin: 0, xMax: 4.03, xTicks: posXTicks, xLabels: posXTickLabels, xTitle: 'x [m]',
  yMin: -0.0217, yMax: 0.00177, yTicks: posYTicks, yLabels: posYTickLabels,
  texts: [
    { x: 'center', y: 38, color: '#000', parts: [{ text: 'Pozicija y - x', font: TITLE }] },
    { x: 34, y: 162, parts: [{ text: 'y', font: TITLE }] },
    { x: 34, y: 201, parts: [{ text: '[m]', font: TITLE }] }
  ]
});

buildChart('exChart', exRuns.map((v, i) => lineSet(i, secs, v)), {
  xMin: 0, xMax: 93.7, xTicks: timeTicks, xLabels: timeTickLabels, xTitle: 'Vrijeme [s]',
  yMin: 0, yMax: 0.02, yTicks: exTicks, yLabels: exTickLabels,
  texts: [
    { x: 'center', y: 38, color: '#000', parts: [{ text: 'Greška - x', font: TITLE }] },
    { x: 46, y: 162, parts: [{ text: '|e', font: TITLE }, { text: 'x', font: SUB, dy: 9 }, { text: '|', font: TITLE }] },
    { x: 46, y: 208, parts: [{ text: '[m]', font: TITLE }] }
  ]
});

buildChart('eyChart', eyRuns.map((v, i) => lineSet(i, eyTimes[i], v)), {
  xMin: 0, xMax: 93.7, xTicks: timeTicks, xLabels: timeTickLabels, xTitle: 'Vrijeme [s]',
  yMin: 0, yMax: 0.03, yTicks: eyTicks, yLabels: eyTickLabels,
  texts: [
    { x: 'center', y: 38, color: '#000', parts: [{ text: 'Greška - y', font: TITLE }] },
    { x: 60, y: 162, parts: [{ text: '|e', font: TITLE }, { text: 'y', font: SUB, dy: 9 }, { text: '|', font: TITLE }] },
    { x: 60, y: 210, parts: [{ text: '[m]', font: TITLE }] }
  ]
});

buildChart('ethChart', ethRuns.map((v, i) => lineSet(i, secs, v)), {
  xMin: 0, xMax: 93.7, xTicks: timeTicks, xLabels: timeTickLabels, xTitle: 'Vrijeme [s]',
  yMin: 0, yMax: 0.0117, yTicks: ethTicks, yLabels: ethTickLabels,
  texts: [
    { x: 'center', y: 38, color: '#000', parts: [{ text: 'Greška - ', font: TITLE }, { text: 'θ', font: TITLE_IT }] },
    { x: 34, y: 162, parts: [{ text: '|e', font: TITLE }, { text: 'θ', font: SUB_IT, dy: 9 }, { text: '|', font: TITLE }] },
    { x: 34, y: 209, parts: [{ text: '[rad]', font: TITLE }] }
  ]
});

/* shared legend, framed like the MATLAB legend box */
const LEGEND_H = 41;
const legendFrame = {
  id: 'legendFrame',
  afterDraw(chart) {
    const ctx = chart.ctx;
    ctx.save();
    ctx.strokeStyle = '#404040';
    ctx.lineWidth = 1.5;
    ctx.strokeRect(0.75, 0.75, chart.width - 1.5, LEGEND_H - 1.5);
    ctx.restore();
  }
};

new Chart(document.getElementById('legendChart'), {
  type: 'line',
  data: { datasets: runNames.map((n, i) => ({ label: n, data: [], borderColor: COLORS[i], backgroundColor: COLORS[i], borderWidth: 0 })) },
  options: {
    responsive: false, animation: false, devicePixelRatio: 1, events: [],
    scales: { x: { display: false }, y: { display: false } },
    layout: { padding: { top: 1.5, left: 0, right: 0, bottom: 0 } },
    plugins: {
      tooltip: { enabled: false },
      legend: {
        display: true, position: 'top', align: 'center', maxHeight: LEGEND_H,
        labels: { boxWidth: 78, boxHeight: 5, padding: 7, color: '#000', font: { family: SERIF, size: 25 } }
      }
    }
  },
  plugins: [legendFrame]
});
</script>
</body>
</html>
